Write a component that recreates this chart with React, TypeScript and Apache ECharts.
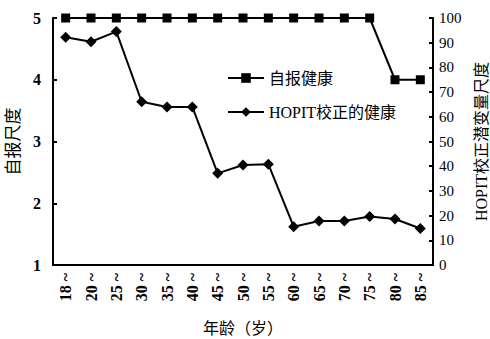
import React, { useEffect, useRef } from "react";
import * as echarts from "echarts";

const categories = ["18 ~", "20 ~", "25 ~", "30 ~", "35 ~", "40 ~", "45 ~", "50 ~", "55 ~", "60 ~", "65 ~", "70 ~", "75 ~", "80 ~", "85 ~"];
const selfReport = [5, 5, 5, 5, 5, 5, 5, 5, 5, 5, 5, 5, 5, 4, 4];
const hopit = [92.2, 90.4, 94.5, 66.1, 64, 64, 37.1, 40.5, 40.8, 15.5, 17.8, 17.8, 19.6, 18.6, 14.8];

export default function App() {
  const ref = useRef<HTMLDivElement>(null);
  useEffect(() => {
    if (!ref.current) return;
    const chart = echarts.init(ref.current, null, { renderer: "svg" });
    const serif = "Liberation Serif";
    const cjk = "Liberation Serif, Noto Sans CJK SC";
    chart.setOption({
      animation: false,
      backgroundColor: "#fff",
      grid: { left: 53, right: 57, top: 18, bottom: 74, outerBoundsMode: "none", containLabel: false },
      legend: {
        orient: "vertical",
        left: 222,
        top: 65,
        itemWidth: 36,
        itemHeight: 12,
        itemGap: 18,
        textStyle: { fontFamily: cjk, fontSize: 16, color: "#000" },
        data: ["自报健康", "HOPIT校正的健康"],
      },
      xAxis: {
        type: "category",
        data: categories,
        name: "年龄（岁）",
        nameLocation: "middle",
        nameGap: 55,
        nameTextStyle: { fontFamily: cjk, fontSize: 16, color: "#000" },
        axisLine: { lineStyle: { color: "#000", width: 2 } },
        axisTick: { inside: true, length: 5, lineStyle: { color: "#000", width: 2 } },
        axisLabel: { rotate: 90, margin: 8, fontFamily: serif, fontSize: 16, fontWeight: "bold", color: "#000" },
      },
      yAxis: [
        {
          type: "value",
          min: 1,
          max: 5,
          interval: 1,
          name: "自报尺度",
          nameLocation: "middle",
          nameRotate: 90,
          nameGap: 30,
          nameTextStyle: { fontFamily: cjk, fontSize: 17, color: "#000" },
          axisLine: { show: true, lineStyle: { color: "#000", width: 2 } },
          axisTick: { show: true, inside: true, length: 4, lineStyle: { color: "#000", width: 2 } },
          axisLabel: { margin: 12, fontFamily: serif, fontSize: 16, fontWeight: "bold", color: "#000" },
          splitLine: { show: false },
        },
        {
          type: "value",
          min: 0,
          max: 100,
          interval: 10,
          name: "HOPIT校正潜变量尺度",
          nameLocation: "middle",
          nameRotate: 90,
          nameGap: 40,
          nameTextStyle: { fontFamily: cjk, fontSize: 16, color: "#000" },
          axisLine: { show: true, lineStyle: { color: "#000", width: 2 } },
          axisTick: { show: true, inside: true, length: 4, lineStyle: { color: "#000", width: 2 } },
          axisLabel: { margin: 6, fontFamily: serif, fontSize: 15, color: "#000" },
          splitLine: { show: false },
        },
      ],
      series: [
        {
          name: "自报健康",
          type: "line",
          yAxisIndex: 0,
          data: selfReport,
          symbol: "rect",
          symbolSize: 9,
          lineStyle: { color: "#000", width: 2 },
          itemStyle: { color: "#000" },
          clip: false,
        },
        {
          name: "HOPIT校正的健康",
          type: "line",
          yAxisIndex: 1,
          data: hopit,
          symbol: "diamond",
          symbolSize: 11,
          lineStyle: { color: "#000", width: 2 },
          itemStyle: { color: "#000" },
          clip: false,
        },
      ],
    });
    return () => chart.dispose();
  }, []);
  return <div ref={ref} style={{ width: 490, height: 339, position: "absolute", left: 0, top: 0 }} />;
}
